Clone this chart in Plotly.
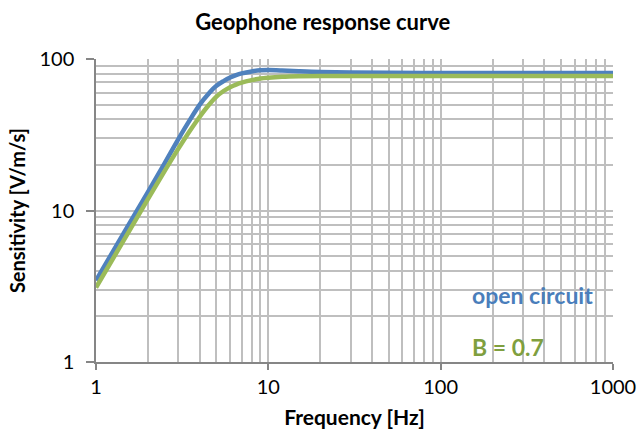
import plotly.graph_objects as go

freq = [1, 1.5, 2, 2.5, 3, 3.5, 4, 4.5, 5, 5.5, 6, 6.5, 7, 8, 9, 10, 12, 15, 20, 30, 50, 100, 200, 500, 1000]
open_circuit = [3.45, 7.6, 13.2, 20.5, 29.5, 39.5, 50, 59, 66.5, 71.5, 75.5, 78.3, 80.3, 82.8, 84.2, 84.5, 84, 83, 82, 81.3, 81, 80.8, 80.8, 80.8, 80.8]
b07 = [3.1, 6.8, 11.9, 18.2, 25.5, 33.5, 41.6, 49.5, 56.5, 61.5, 65.2, 67.8, 69.8, 72.5, 74.4, 75.3, 76.3, 76.9, 77.2, 77.3, 77.3, 77.3, 77.3, 77.3, 77.3]

x_major = [1, 10, 100, 1000]
x_labels = ["1", "10", "100", "1000"]
y_major = [1, 10, 100]
y_labels = ["1", "10", "100"]
x_minor = [m * d for d in (1, 10, 100) for m in range(2, 10)]
y_minor = [m * d for d in (1, 10) for m in range(2, 10)]

FONT = "Lato"
BLUE = "#4F81BD"
GREEN = "#9BBB59"
GRID = "#BFBFBF"

fig = go.Figure()
fig.add_trace(go.Scatter(x=freq, y=open_circuit, mode="lines", line=dict(color=BLUE, width=4.5, shape="spline", smoothing=1.0), name="open circuit"))
fig.add_trace(go.Scatter(x=freq, y=b07, mode="lines", line=dict(color=GREEN, width=4.5, shape="spline", smoothing=1.0), name="B = 0.7"))

fig.update_layout(
    width=639, height=439,
    margin=dict(l=96, r=26, t=59, b=77, autoexpand=False),
    paper_bgcolor="white", plot_bgcolor="white",
    showlegend=False,
    font=dict(family=FONT, color="black"),
    title=dict(text="<b>Geophone response curve</b>", x=0.505, xanchor="center", y=0.95, yanchor="middle",
               font=dict(size=22, family=FONT, color="black")),
    xaxis=dict(type="log", range=[0, 3], tickvals=x_major, ticktext=x_labels, automargin=False,
               showgrid=True, gridcolor=GRID, gridwidth=1.5,
               showline=True, linecolor="#868686", linewidth=1.5,
               ticks="outside", ticklen=6, tickcolor="#868686", tickwidth=1.5,
               tickfont=dict(size=20, family=FONT), zeroline=False,
               minor=dict(tickvals=x_minor, showgrid=True, gridcolor=GRID, gridwidth=1.5, ticks=""),
               title=dict(text="<b>Frequency [Hz]</b>", font=dict(size=21, family=FONT), standoff=14)),
    yaxis=dict(type="log", range=[0, 2], tickvals=y_major, ticktext=y_labels, automargin=False,
               showgrid=True, gridcolor=GRID, gridwidth=1.5,
               showline=True, linecolor="#868686", linewidth=1.5,
               ticks="outside", ticklen=8, tickcolor="#868686", tickwidth=1.5,
               ticklabelstandoff=8,
               tickfont=dict(size=20, family=FONT), zeroline=False,
               minor=dict(tickvals=y_minor, showgrid=True, gridcolor=GRID, gridwidth=1.5, ticks=""),
               title=dict(text="<b>Sensitivity [V/m/s]</b>", font=dict(size=20, family=FONT), standoff=8)),
    annotations=[
        dict(text="<b>open circuit</b>", x=0.7234, y=0.221, xref="paper", yref="paper", xanchor="left", yanchor="middle",
             showarrow=False, font=dict(size=23, family=FONT, color="#4A7EBB")),
        dict(text="<b>B = 0.7</b>", x=0.7234, y=0.0495, xref="paper", yref="paper", xanchor="left", yanchor="middle",
             showarrow=False, font=dict(size=23, family=FONT, color="#7F9F3F")),
    ],
)

fig.write_html("out.html", config={"displayModeBar": False},
               post_script="document.body.style.margin='0';document.body.style.overflow='hidden';")
